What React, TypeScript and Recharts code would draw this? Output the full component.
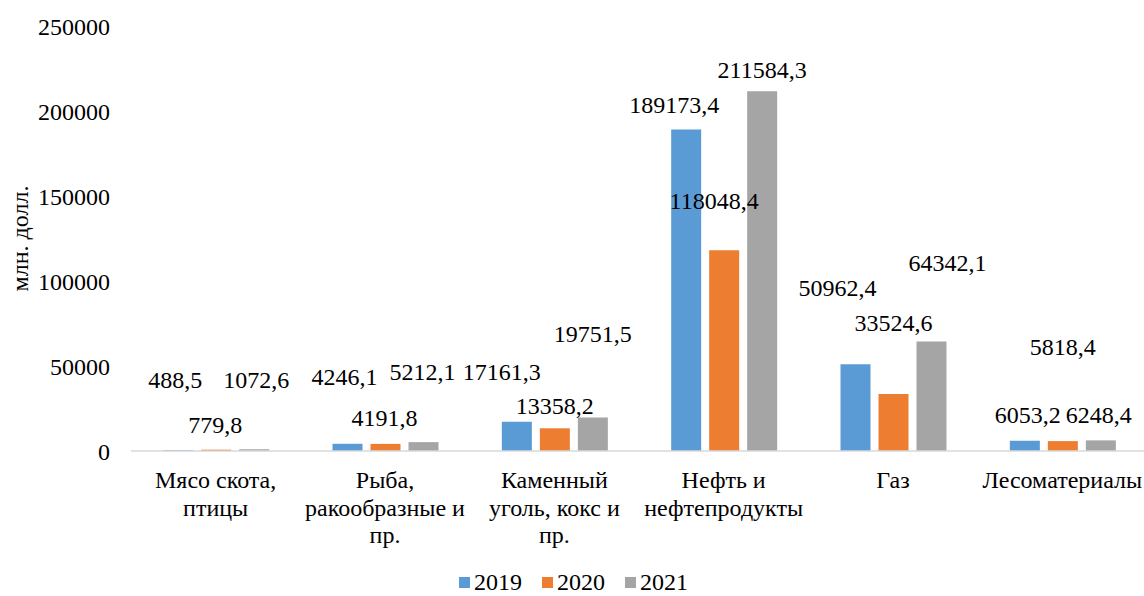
import { BarChart, Bar, XAxis, YAxis, Legend, LabelList, Label } from "recharts";

const categories = [
  "Мясо скота,\nптицы",
  "Рыба,\nракообразные и\nпр.",
  "Каменный\nуголь, кокс и\nпр.",
  "Нефть и\nнефтепродукты",
  "Газ",
  "Лесоматериалы",
];
const years = ["2019", "2020", "2021"];
const v2019 = [488.5, 4246.1, 17161.3, 189173.4, 50962.4, 6053.2];
const v2020 = [779.8, 4191.8, 13358.2, 118048.4, 33524.6, 5818.4];
const v2021 = [1072.6, 5212.1, 19751.5, 211584.3, 64342.1, 6248.4];
const yTicks = [0, 50000, 100000, 150000, 200000, 250000];

// label nudges (dx, dy of label centre from bar top-centre), as placed by hand in the source
const shift2019 = [[-3, -70], [-3, -67], [-15, -50], [-12, -24], [-18, -76], [3, -26]];
const shift2020 = [[-1, -25], [-1, -26], [0, -22], [-10, -49], [0, -71], [0, -94]];
const shift2021 = [[2, -69], [-1, -70], [0, -83], [0, -21], [16, -79], [-2, -25]];

const colors = ["#5B9BD5", "#ED7D31", "#A5A5A5"];
const FONT = '"Liberation Serif", "Times New Roman", serif';

const data = categories.map((name, i) => ({
  name,
  y2019: v2019[i],
  y2020: v2020[i],
  y2021: v2021[i],
}));

const fmt = (v: number) => v.toFixed(1).replace(".", ",");

function makeLabel(shifts: number[][]) {
  return (p: any) => {
    const [dx, dy] = shifts[p.index] || [0, -20];
    const cx = Number(p.x) + Number(p.width) / 2 + dx;
    const cy = Number(p.y) + dy;
    return (
      <text x={cx} y={cy + 8} textAnchor="middle" fontSize={24} fill="#000" fontFamily={FONT}>
        {fmt(Number(p.value))}
      </text>
    );
  };
}

function CatTick(props: any) {
  const { x, y, payload } = props;
  const lines = String(payload.value).split("\n");
  return (
    <text x={x} y={y} textAnchor="middle" fontSize={24} fill="#000" fontFamily={FONT}>
      {lines.map((l, i) => (
        <tspan key={i} x={x} dy={i === 0 ? 37 : 27.5}>
          {l}
        </tspan>
      ))}
    </text>
  );
}

function LegendBox() {
  return (
    <div
      style={{
        height: 28,
        display: "flex",
        justifyContent: "center",
        alignItems: "center",
        fontFamily: FONT,
        fontSize: 24,
        color: "#000",
      }}
    >
      {years.map((y, i) => (
        <div key={y} style={{ display: "flex", alignItems: "center", marginRight: i < 2 ? 20 : 0 }}>
          <div style={{ width: 11, height: 11, background: colors[i], marginRight: 4 }} />
          <span>{y}</span>
        </div>
      ))}
    </div>
  );
}

export default function App() {
  return (
    <div
      style={{
        position: "absolute",
        left: 0,
        top: 0,
        width: 1144,
        height: 596,
        overflow: "hidden",
        background: "#fff",
      }}
    >
      <BarChart
        width={1147}
        height={596}
        data={data}
        margin={{ top: 26, right: 0, left: 0, bottom: 0 }}
        barCategoryGap="19%"
        barGap={8}
      >
        <XAxis
          dataKey="name"
          interval={0}
          height={117}
          tickLine={false}
          tickSize={0}
          tickMargin={0}
          axisLine={{ stroke: "#D9D9D9", strokeWidth: 1.3 }}
          tick={<CatTick />}
        />
        <YAxis
          width={131}
          domain={[0, 250000]}
          ticks={yTicks}
          axisLine={false}
          tickLine={false}
          tickSize={0}
          tickMargin={21}
          tick={{ fontSize: 24, fill: "#000", fontFamily: FONT }}
        >
          <Label
            content={(p: any) => {
              const vb = p.viewBox || { y: 26, height: 425 };
              const cy = vb.y + vb.height / 2;
              return (
                <text
                  x={20}
                  y={cy}
                  transform={`rotate(-90 20 ${cy})`}
                  textAnchor="middle"
                  dominantBaseline="central"
                  fontSize={24}
                  fill="#000"
                  fontFamily={FONT}
                >
                  млн. долл.
                </text>
              );
            }}
          />
        </YAxis>
        <Legend verticalAlign="bottom" height={28} content={<LegendBox />} />
        <Bar dataKey="y2019" name="2019" fill={colors[0]} isAnimationActive={false}>
          <LabelList dataKey="y2019" content={makeLabel(shift2019)} />
        </Bar>
        <Bar dataKey="y2020" name="2020" fill={colors[1]} isAnimationActive={false}>
          <LabelList dataKey="y2020" content={makeLabel(shift2020)} />
        </Bar>
        <Bar dataKey="y2021" name="2021" fill={colors[2]} isAnimationActive={false}>
          <LabelList dataKey="y2021" content={makeLabel(shift2021)} />
        </Bar>
      </BarChart>
    </div>
  );
}
